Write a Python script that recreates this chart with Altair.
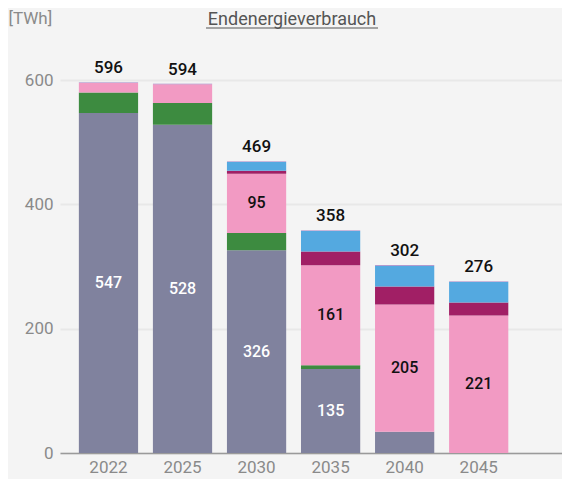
import altair as alt
import pandas as pd

years = ["2022", "2025", "2030", "2035", "2040", "2045"]
fossil = [547, 528, 326, 135, 34, 0]
biomasse = [33, 35, 28, 6, 0, 0]
strom = [15, 30, 95, 161, 205, 221]
fernwaerme = [0, 0, 5, 22, 29, 21]
wasserstoff = [0, 0, 14, 33, 33, 33]
sonstige = [1, 1, 1, 1, 1, 1]

series_names = ["Fossil", "Biomasse", "Strom", "Fernwärme", "Wasserstoff", "Sonstige"]
series_values = [fossil, biomasse, strom, fernwaerme, wasserstoff, sonstige]
series_colors = ["#80829e", "#3d8b40", "#f29ac3", "#a11f65", "#54a9e0", "#9b7cc2"]

rows = []
for rank, (name, vals) in enumerate(zip(series_names, series_values)):
    for yr, v in zip(years, vals):
        rows.append({"year": yr, "series": name, "rank": rank, "value": v})
df = pd.DataFrame(rows)

FONT = "Roboto"
GREY = "#8a8a8a"

x_enc = alt.X(
    "year:N",
    sort=years,
    scale=alt.Scale(paddingInner=0.2, paddingOuter=0.49, align=0.26),
    axis=alt.Axis(
        title=None, labelAngle=0, ticks=False, domainColor="#9a9a9a", domainWidth=1.5,
        labelColor=GREY, labelFontSize=17, labelPadding=6, labelFont=FONT, grid=False,
    ),
)

y_scale = alt.Scale(domain=[0, 600], nice=False)

base = alt.Chart(df).transform_stack(
    stack="value", groupby=["year"], sort=[alt.SortField("rank", "ascending")], as_=["y0", "y1"]
)

bars = base.transform_filter("datum.value > 0").mark_bar().encode(
    x=x_enc,
    y=alt.Y(
        "y0:Q",
        scale=y_scale,
        axis=alt.Axis(
            values=[0, 200, 400, 600], grid=True, gridColor="#e8e8e8", gridWidth=2,
            domain=False, ticks=False, labelColor=GREY, labelFontSize=17, labelPadding=7,
            labelFont=FONT, title="[TWh]", titleAngle=0, titleX=-52, titleY=-70,
            titleAlign="left", titleBaseline="top", titleColor=GREY, titleFontSize=17,
            titleFontWeight="normal", titleFont=FONT,
        ),
    ),
    y2="y1:Q",
    color=alt.Color("series:N", scale=alt.Scale(domain=series_names, range=series_colors), legend=None),
)

labels = base.transform_filter("datum.value >= 50").transform_calculate(
    mid="(datum.y0 + datum.y1) / 2"
).mark_text(fontSize=16, fontWeight=500, font=FONT).encode(
    x=x_enc,
    y=alt.Y("mid:Q", scale=y_scale),
    text=alt.Text("value:Q"),
    color=alt.condition("datum.series == 'Fossil'", alt.value("white"), alt.value("#111111")),
)

totals = alt.Chart(df).transform_aggregate(
    total="sum(value)", groupby=["year"]
).mark_text(dy=-9, baseline="alphabetic", fontSize=17, fontWeight=500, font=FONT, color="#111111").encode(
    x=x_enc,
    y=alt.Y("total:Q", scale=y_scale),
    text=alt.Text("total:Q"),
)

deco = pd.DataFrame({"u": [0]})
title_text = alt.Chart(deco).mark_text(
    fontSize=18, font=FONT, color="#555555", align="center", baseline="alphabetic"
).encode(x=alt.value(232), y=alt.value(-55), text=alt.value("Endenergieverbrauch"))

underline = alt.Chart(deco).mark_rule(color="#555555", strokeWidth=1).encode(
    x=alt.value(146), x2=alt.value(318), y=alt.value(-52)
)

chart = alt.layer(bars, labels, totals, title_text, underline).properties(
    width=502,
    height=373,
    autosize="none",
    padding={"left": 52, "top": 72, "right": 0, "bottom": 26},
    background="#f4f4f4",
).configure_view(stroke=None)

chart.save("out.html", embed_options={"renderer": "svg", "actions": False})
